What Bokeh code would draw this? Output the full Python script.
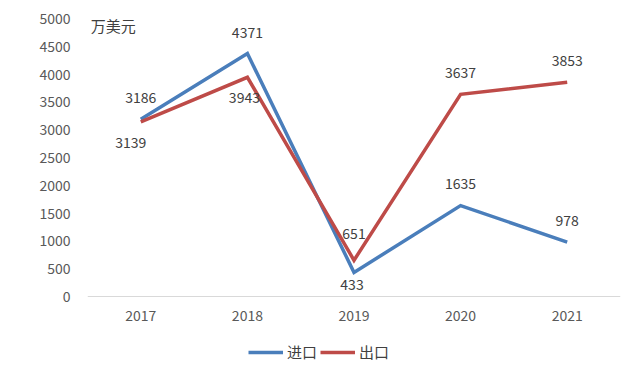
from bokeh.plotting import figure
from bokeh.models import ColumnDataSource, Range1d, FactorRange, Legend, LegendItem, Label, FixedTicker, Span
from bokeh.embed import file_html
from bokeh.resources import INLINE
from bokeh.core.properties import value

years = ["2017", "2018", "2019", "2020", "2021"]
imports = [3186, 4371, 433, 1635, 978]
exports = [3139, 3943, 651, 3637, 3853]
y_ticks = [0, 500, 1000, 1500, 2000, 2500, 3000, 3500, 4000, 4500, 5000]
unit_label = "万美元"
series_names = ["进口", "出口"]

FONT = "Noto Sans CJK SC"
BLUE = "#4A7EBB"
RED = "#BE4B48"

# frame spans the full height below the top margin; values below 0 hold the axis labels and legend
p = figure(x_range=FactorRange(*years), y_range=Range1d(-1457, 5000),
           width=640, height=377, output_backend="svg", toolbar_location=None,
           x_axis_location=None,
           min_border_left=87, min_border_right=20, min_border_top=18, min_border_bottom=0)
p.outline_line_color = None
p.background_fill_color = "white"
p.border_fill_color = "white"
p.xgrid.grid_line_color = None
p.ygrid.grid_line_color = None

p.yaxis.ticker = FixedTicker(ticks=y_ticks)
p.yaxis.axis_line_color = None
p.yaxis.major_tick_line_color = None
p.yaxis.minor_tick_line_color = None
p.yaxis.major_label_standoff = 11
p.yaxis.major_label_text_font = FONT
p.yaxis.major_label_text_font_size = "14px"
p.yaxis.major_label_text_color = "#595959"

# category axis line at value 0
p.add_layout(Span(location=0, dimension="width", line_color="#D9D9D9", line_width=1))

src = ColumnDataSource(dict(x=years, imp=imports, exp=exports, zero=[0] * len(years),
                            imp_t=[str(v) for v in imports], exp_t=[str(v) for v in exports]))

# category tick labels
p.text(x="x", y="zero", text="x", y_offset=19, source=src, text_font=value(FONT),
       text_font_size="14px", text_color="#595959", text_align="center", text_baseline="middle")

r_imp = p.line("x", "imp", source=src, line_color=BLUE, line_width=3.5, line_join="miter")
r_exp = p.line("x", "exp", source=src, line_color=RED, line_width=3.5, line_join="miter")

# label offsets (screen px): positive y_offset goes down in Bokeh text glyph
src.data["imp_dx"] = [0, 0, -2, 0, 0]
src.data["imp_dy"] = [-22, -21, 12, -22, -22]
src.data["exp_dx"] = [-10, -3, 0, 0, 0]
src.data["exp_dy"] = [21, 20, -27, -22, -22]

common = dict(text_font=value(FONT), text_font_size="14px", text_color="#404040",
              text_align="center", text_baseline="middle")
p.text(x="x", y="imp", text="imp_t", x_offset="imp_dx", y_offset="imp_dy", source=src, **common)
p.text(x="x", y="exp", text="exp_t", x_offset="exp_dx", y_offset="exp_dy", source=src, **common)

p.add_layout(Label(x=0.03, y=4874, text=unit_label, text_font=FONT, text_font_size="15px",
                   text_color="#404040", text_baseline="middle", text_align="left"))

legend = Legend(items=[LegendItem(label=series_names[0], renderers=[r_imp]),
                       LegendItem(label=series_names[1], renderers=[r_exp])],
                location=(161, 15), orientation="horizontal",
                padding=0, margin=0, spacing=3, glyph_width=35, glyph_height=20,
                label_standoff=4, label_text_font=FONT, label_text_font_size="15px",
                label_text_color="#404040", border_line_color=None, background_fill_alpha=0)
p.add_layout(legend, "center")

open("out.html", "w").write(file_html(p, INLINE))
